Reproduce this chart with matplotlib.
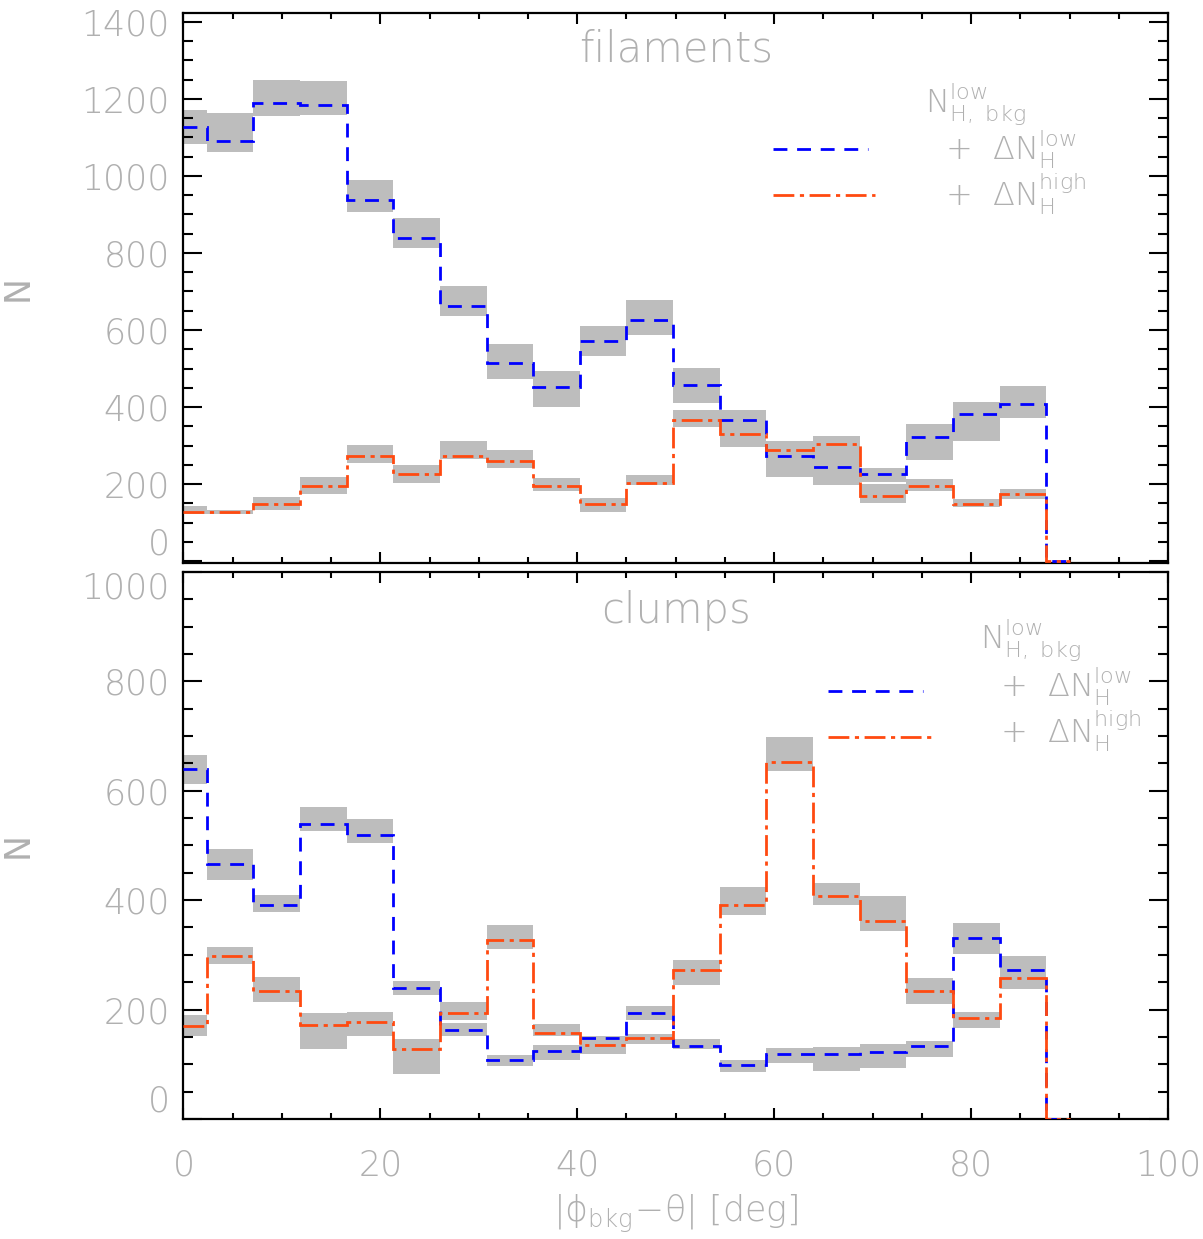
import numpy as np
import matplotlib
matplotlib.use("Agg")
import matplotlib.pyplot as plt
from matplotlib.ticker import MultipleLocator

# --- bin edges (deg); the last bin is the empty one up to 90 ---
edges = [0.0, 2.37, 7.11, 11.84, 16.58, 21.32, 26.05, 30.79, 35.53, 40.26,
         45.0, 49.74, 54.47, 59.21, 63.95, 68.68, 73.42, 78.16, 82.89, 87.63, 90.0]

# --- filaments: N_H,bkg^low + dN_H^low (blue) ---
fil_low = [1127, 1091, 1189, 1183, 937, 838, 662, 514, 451, 571,
           626, 457, 366, 274, 245, 225, 323, 381, 408, 0]
fil_low_lo = [1083, 1061, 1156, 1159, 906, 812, 636, 472, 401, 533,
              587, 411, 345, 219, 198, 205, 262, 311, 371]
fil_low_hi = [1170, 1163, 1249, 1247, 990, 892, 714, 564, 494, 610,
              678, 502, 391, 290, 280, 241, 356, 414, 454]

# --- filaments: N_H,bkg^low + dN_H^high (orange) ---
fil_high = [127, 127, 147, 196, 274, 225, 274, 260, 196, 147,
            204, 366, 331, 288, 304, 168, 196, 147, 175, 0]
fil_high_lo = [121, 122, 132, 175, 255, 203, 264, 241, 181, 127,
               197, 349, 297, 260, 270, 150, 183, 140, 162]
fil_high_hi = [143, 133, 166, 217, 301, 250, 312, 288, 215, 165,
               224, 392, 352, 311, 324, 200, 213, 162, 186]

# --- clumps: blue ---
clu_low = [639, 466, 391, 540, 519, 239, 163, 108, 124, 148,
           194, 134, 99, 119, 119, 123, 134, 331, 273, 0]
clu_low_lo = [612, 437, 379, 527, 505, 226, 152, 96, 108, 135,
              180, 127, 86, 103, 88, 94, 113, 301, 250]
clu_low_hi = [665, 494, 409, 571, 548, 253, 175, 116, 135, 152,
              207, 147, 107, 129, 131, 137, 143, 358, 298]

# --- clumps: orange ---
clu_high = [169, 297, 233, 172, 178, 128, 193, 328, 158, 135,
            148, 272, 392, 653, 408, 362, 233, 184, 258, 0]
clu_high_lo = [152, 283, 213, 127, 152, 83, 180, 311, 152, 119,
               137, 245, 372, 636, 392, 343, 211, 166, 237]
clu_high_hi = [190, 314, 259, 194, 195, 146, 213, 354, 174, 140,
               155, 290, 424, 698, 432, 408, 257, 195, 270]

BLUE = "#0000ff"
ORANGE = "#ff4a10"
BAND = "#bdbdbd"
TXT = "#b0b0b0"
BLUE_DASH = (5, 3.5)
ORANGE_DASH = (7.5, 2, 1.5, 2)

plt.rcParams['font.family'] = ['DejaVu Sans']
plt.rcParams['font.weight'] = 'light'
# thin math text too, to look like the IDL vector font
plt.rcParams['mathtext.fontset'] = 'custom'
plt.rcParams['mathtext.rm'] = 'DejaVu Sans:light'
plt.rcParams['mathtext.it'] = 'DejaVu Sans:italic:light'
plt.rcParams['mathtext.sf'] = 'DejaVu Sans:light'

fig = plt.figure(figsize=(12.03, 12.39), dpi=100)
ax1 = fig.add_axes([0.1525, 0.5456, 0.8184, 0.4439])
ax2 = fig.add_axes([0.1525, 0.0969, 0.8184, 0.4415])


def draw_panel(ax, low, low_lo, low_hi, high, high_lo, high_hi):
    left = np.array(edges[:-2])
    width = np.diff(edges[:-1])
    # grey spread bands
    for lo, hi in ((low_lo, low_hi), (high_lo, high_hi)):
        lo = np.array(lo)
        hi = np.array(hi)
        ax.bar(left, hi - lo, width=width, bottom=lo, align='edge',
               color=BAND, linewidth=0, zorder=1)
    ax.stairs(low, edges, baseline=None, color=BLUE, lw=2,
              linestyle=(0, BLUE_DASH), zorder=3)
    ax.stairs(high, edges, baseline=None, color=ORANGE, lw=2,
              linestyle=(0, ORANGE_DASH), zorder=4)


def style_axes(ax, ymax, ymin):
    ax.set_xlim(0, 100)
    ax.set_ylim(ymin, ymax)
    ax.xaxis.set_major_locator(MultipleLocator(20))
    ax.xaxis.set_minor_locator(MultipleLocator(5))
    ax.yaxis.set_major_locator(MultipleLocator(200))
    ax.yaxis.set_minor_locator(MultipleLocator(50))
    for s in ax.spines.values():
        s.set_linewidth(1.6)
    ax.tick_params(which='both', direction='in', top=True, right=True,
                   width=1.5, colors='black', labelcolor=TXT, labelsize=25)
    ax.tick_params(axis='x', which='major', length=8, pad=21)
    ax.tick_params(axis='x', which='minor', length=4)
    ax.tick_params(axis='y', which='major', length=14, pad=10)
    ax.tick_params(axis='y', which='minor', length=7)
    ax.set_ylabel("N", color=TXT, fontsize=25)
    ax.yaxis.set_label_coords(-0.151, 0.5)


def draw_key(ax, xl0, xl1b, xl1o, yb, yo, xh, yh, xp, yr1, yr2):
    ax.plot([xl0, xl1b], [yb, yb], transform=ax.transAxes, color=BLUE,
            lw=2, linestyle=(0, BLUE_DASH))
    ax.plot([xl0, xl1o], [yo, yo], transform=ax.transAxes, color=ORANGE,
            lw=2, linestyle=(0, ORANGE_DASH))
    kw = dict(transform=ax.transAxes, color=TXT, fontsize=23, va='baseline', ha='left')
    ax.text(xh, yh, r'$\mathrm{N}_{\mathrm{H,\ bkg}}^{\mathrm{low}}$', **kw)
    ax.text(xp, yr1, r'$+\ \ \Delta\mathrm{N}_{\mathrm{H}}^{\mathrm{low}}$', **kw)
    ax.text(xp, yr2, r'$+\ \ \Delta\mathrm{N}_{\mathrm{H}}^{\mathrm{high}}$', **kw)


# --- top panel: filaments ---
draw_panel(ax1, fil_low, fil_low_lo, fil_low_hi, fil_high, fil_high_lo, fil_high_hi)
style_axes(ax1, 1423, -5)
ax1.tick_params(axis='x', labelbottom=False)
ax1.text(0.5, 0.935, "filaments", transform=ax1.transAxes, ha='center',
         va='center', color=TXT, fontsize=30)
draw_key(ax1, 0.599, 0.695, 0.702, 0.753, 0.669, 0.753, 0.818, 0.773, 0.733, 0.649)

# --- bottom panel: clumps ---
draw_panel(ax2, clu_low, clu_low_lo, clu_low_hi, clu_high, clu_high_lo, clu_high_hi)
style_axes(ax2, 1000, 0)
ax2.text(0.5, 0.93, "clumps", transform=ax2.transAxes, ha='center',
         va='center', color=TXT, fontsize=30)
draw_key(ax2, 0.655, 0.751, 0.760, 0.783, 0.698, 0.809, 0.859, 0.829, 0.772, 0.687)
ax2.set_xlabel(r'$|\mathrm{\phi}_{\mathrm{bkg}}\!-\!\mathrm{\theta}|\ [\mathrm{deg}]$',
               color=TXT, fontsize=25, labelpad=8)

fig.canvas.draw()
# IDL-like placement of the end labels
for t in ax1.get_yticklabels():
    if t.get_text() == '0':
        t.set_va('bottom')
for t in ax2.get_yticklabels():
    if t.get_text() == '0':
        t.set_va('bottom')
    elif t.get_text() == '1000':
        t.set_va('top')

fig.savefig("out.png", dpi=100)
